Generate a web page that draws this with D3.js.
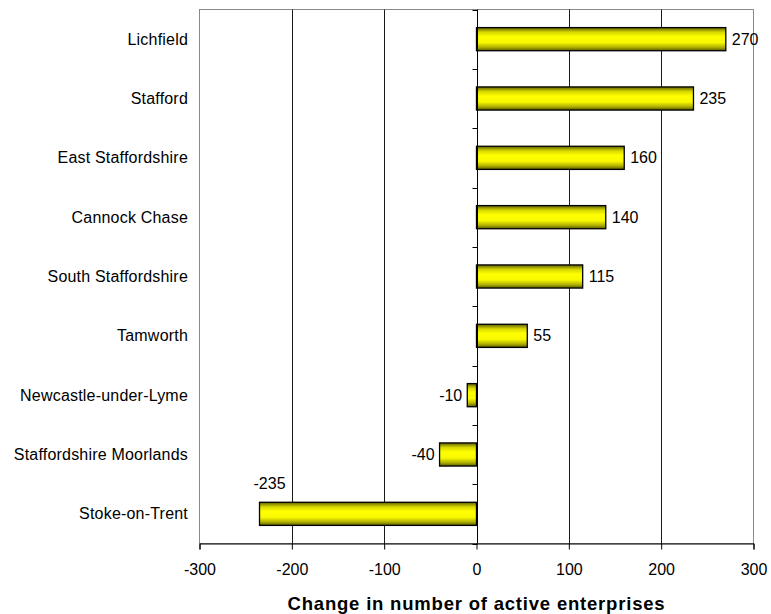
<!DOCTYPE html>
<html>
<head>
<meta charset="utf-8">
<script src="https://cdn.jsdelivr.net/npm/d3@7"></script>
<style>
  html, body { margin: 0; padding: 0; background: #fff; }
  svg { display: block; font-family: "Liberation Sans", Arial, sans-serif; }
</style>
</head>
<body>
<svg id="chart" width="771" height="614"></svg>
<script>
// Districts, top to bottom
const districts = [
  "Lichfield", "Stafford", "East Staffordshire", "Cannock Chase",
  "South Staffordshire", "Tamworth", "Newcastle-under-Lyme",
  "Staffordshire Moorlands", "Stoke-on-Trent"
];
// Change in number of active enterprises
const changes = [270, 235, 160, 140, 115, 55, -10, -40, -235];
// Value axis ticks
const xTicks = [-300, -200, -100, 0, 100, 200, 300];
const xTitle = "Change in number of active enterprises";

const svg = d3.select("#chart");
const plot = { left: 199.5, right: 753.5, top: 9.5, bottom: 543.5 };

const x = d3.scaleLinear().domain([-300, 300]).range([plot.left, plot.right]);
const y = d3.scaleBand().domain(districts).range([plot.top, plot.bottom]).paddingInner(0.61).paddingOuter(0.305);
const band = d3.scaleBand().domain(districts).range([plot.top, plot.bottom]);

// Shaded yellow fill for the bars
const defs = svg.append("defs");
const grad = defs.append("linearGradient").attr("id", "barFill")
  .attr("x1", 0).attr("y1", 0).attr("x2", 0).attr("y2", 1);
[[0, "#5e5e00"], [0.2, "#d8d800"], [0.4, "#ffff00"], [0.65, "#f8f800"], [0.85, "#b0b000"], [1, "#5a5a00"]]
  .forEach(([o, c]) => grad.append("stop").attr("offset", o).attr("stop-color", c));

// Plot frame
svg.append("rect")
  .attr("x", plot.left).attr("y", plot.top)
  .attr("width", plot.right - plot.left).attr("height", plot.bottom - plot.top)
  .attr("fill", "none").attr("stroke", "#8a8a8a").attr("stroke-width", 1);

// Vertical gridlines
svg.append("g").selectAll("line")
  .data(xTicks.filter(t => t !== 0 && Math.abs(t) !== 300))
  .join("line")
  .attr("x1", d => Math.round(x(d)) + 0.5).attr("x2", d => Math.round(x(d)) + 0.5)
  .attr("y1", plot.top).attr("y2", plot.bottom)
  .attr("stroke", "#1a1a1a").attr("stroke-width", 1);

// Bars
svg.append("g").selectAll("rect")
  .data(districts.map((d, i) => ({ name: d, value: changes[i] })))
  .join("rect")
  .attr("x", d => x(Math.min(0, d.value)))
  .attr("width", d => Math.abs(x(d.value) - x(0)))
  .attr("y", d => y(d.name))
  .attr("height", y.bandwidth())
  .attr("fill", "url(#barFill)")
  .attr("stroke", "#000").attr("stroke-width", 1.3);

// Category axis along zero, ticks at band boundaries
const zx = Math.round(x(0)) + 0.5;
const catAxis = svg.append("g");
catAxis.append("line")
  .attr("x1", zx).attr("x2", zx).attr("y1", plot.top).attr("y2", plot.bottom)
  .attr("stroke", "#000").attr("stroke-width", 1);
catAxis.selectAll("line.tick")
  .data(districts.map(d => band(d)).concat([plot.bottom]))
  .join("line").attr("class", "tick")
  .attr("x1", zx - 5).attr("x2", zx)
  .attr("y1", d => Math.round(d) + 0.5).attr("y2", d => Math.round(d) + 0.5)
  .attr("stroke", "#000");

// Category labels
svg.append("g").selectAll("text")
  .data(districts)
  .join("text")
  .attr("x", 188)
  .attr("y", d => band(d) + band.bandwidth() / 2)
  .attr("dy", "0.35em")
  .attr("text-anchor", "end")
  .attr("font-size", 16)
  .attr("letter-spacing", 0.2)
  .attr("fill", "#000")
  .text(d => d);

// Value axis
const xAxis = svg.append("g")
  .attr("transform", `translate(0,${plot.bottom})`)
  .call(d3.axisBottom(x).tickValues(xTicks).tickSize(6).tickPadding(14).tickFormat(d => String(d)));
xAxis.select(".domain").attr("stroke", "#000");
xAxis.selectAll(".tick line").attr("stroke", "#000");
xAxis.selectAll(".tick text")
  .attr("font-size", 16)
  .attr("font-family", "Liberation Sans, Arial, sans-serif")
  .attr("fill", "#000");

// Value labels
svg.append("g").selectAll("text")
  .data(districts.map((d, i) => ({ name: d, value: changes[i] })))
  .join("text")
  .attr("font-size", 16)
  .attr("fill", "#000")
  .each(function (d) {
    const t = d3.select(this);
    const cy = y(d.name) + y.bandwidth() / 2;
    if (d.value >= 0) {
      t.attr("x", x(d.value) + 6).attr("y", cy).attr("dy", "0.35em").attr("text-anchor", "start");
    } else if (x(d.value) - 70 < plot.left) {
      // no room on the left: sit above the bar's end
      t.attr("x", x(d.value) + 10).attr("y", y(d.name) - 19).attr("dy", "0.35em").attr("text-anchor", "middle");
    } else {
      t.attr("x", x(d.value) - 5).attr("y", cy).attr("dy", "0.35em").attr("text-anchor", "end");
    }
  })
  .text(d => d.value);

// Axis title
svg.append("text")
  .attr("x", (plot.left + plot.right) / 2)
  .attr("y", 604)
  .attr("dy", "0.35em")
  .attr("text-anchor", "middle")
  .attr("font-size", 18.5)
  .attr("font-weight", "bold")
  .attr("letter-spacing", 0.8)
  .attr("fill", "#000")
  .text(xTitle);
</script>
</body>
</html>
